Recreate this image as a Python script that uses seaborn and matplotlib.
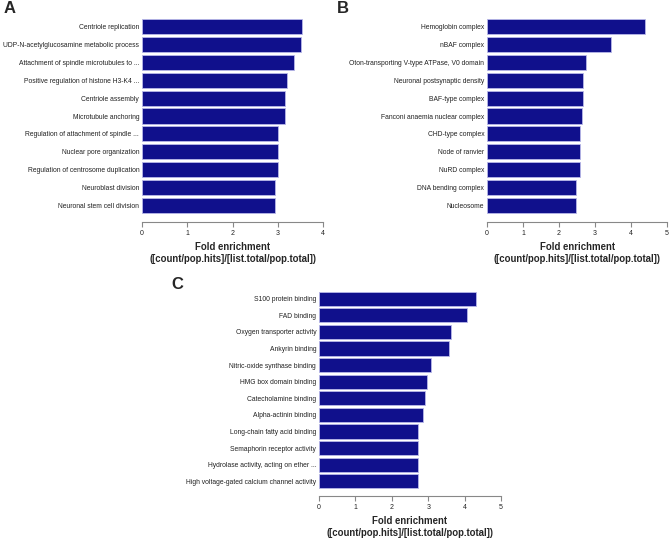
import matplotlib
matplotlib.use("Agg")
import matplotlib.pyplot as plt
import seaborn as sns
import pandas as pd

sns.set_style("white")
plt.rcParams['font.family'] = ['Liberation Sans', 'DejaVu Sans']

cats_a = ["Centriole replication", "UDP-N-acetylglucosamine metabolic process",
          "Attachment of spindle microtubules to ...", "Positive regulation of histone H3-K4 ...",
          "Centriole assembly", "Microtubule anchoring", "Regulation of attachment of spindle ...",
          "Nuclear pore organization", "Regulation of centrosome duplication",
          "Neuroblast division", "Neuronal stem cell division"]
vals_a = [3.54, 3.51, 3.36, 3.21, 3.17, 3.17, 3.01, 3.01, 3.01, 2.94, 2.94]

cats_b = ["Hemoglobin complex", "nBAF complex", "Oton-transporting V-type ATPase, V0 domain",
          "Neuronal postsynaptic density", "BAF-type complex", "Fanconi anaemia nuclear complex",
          "CHD-type complex", "Node of ranvier", "NuRD complex", "DNA bending complex", "Nucleosome"]
vals_b = [4.40, 3.45, 2.76, 2.68, 2.68, 2.65, 2.59, 2.59, 2.59, 2.47, 2.47]

cats_c = ["S100 protein binding", "FAD binding", "Oxygen transporter activity", "Ankyrin binding",
          "Nitric-oxide synthase binding", "HMG box domain binding", "Catecholamine binding",
          "Alpha-actinin binding", "Long-chain fatty acid binding", "Semaphorin receptor activity",
          "Hydrolase activity, acting on ether ...", "High voltage-gated calcium channel activity"]
vals_c = [4.32, 4.07, 3.63, 3.56, 3.08, 2.96, 2.90, 2.86, 2.71, 2.71, 2.71, 2.71]

xlabel = "Fold enrichment\n([count/pop.hits]/[list.total/pop.total])"

W, H = 669, 539
fig = plt.figure(figsize=(W / 100, H / 100), dpi=100)

def px_axes(left, right, top, bottom):
    return fig.add_axes([left / W, 1 - bottom / H, (right - left) / W, (bottom - top) / H])

def panel(ax, cats, vals, xmax, ylim, label, lx, ly):
    df = pd.DataFrame({"term": cats, "fold": vals})
    sns.barplot(data=df, x="fold", y="term", orient="h", ax=ax, color="#10108C",
                saturation=1, width=0.85, edgecolor="#B8B8E8", linewidth=0.6)
    ax.set_xlim(0, xmax)
    ax.set_ylim(*ylim)
    ax.set_xticks(range(0, xmax + 1))
    for s in ["top", "right", "left"]:
        ax.spines[s].set_visible(False)
    ax.spines["bottom"].set_color("#888888")
    ax.spines["bottom"].set_linewidth(0.8)
    ax.tick_params(axis="x", direction="out", length=3.5, width=0.8, color="#888888",
                   labelsize=5, pad=2, labelcolor="#222222", bottom=True)
    ax.tick_params(axis="y", length=0, labelsize=4.9, pad=2, labelcolor="#222222")
    ax.set_ylabel("")
    ax.set_xlabel(xlabel, fontsize=6.9, fontweight="bold", labelpad=3.5, linespacing=1.25)
    fig.text(lx / W, 1 - ly / H, label, fontsize=12, fontweight="bold", ha="left", va="top")

ax_a = px_axes(142, 323, 10, 222)
panel(ax_a, cats_a, vals_a, 4, (10.94, -0.94), "A", 4, 1)

ax_b = px_axes(487, 667, 10, 222)
panel(ax_b, cats_b, vals_b, 5, (10.94, -0.94), "B", 337, 1)

ax_c = px_axes(319, 501, 283, 496)
panel(ax_c, cats_c, vals_c, 5, (11.89, -0.95), "C", 171, 277)

fig.savefig("out.png", dpi=100)
